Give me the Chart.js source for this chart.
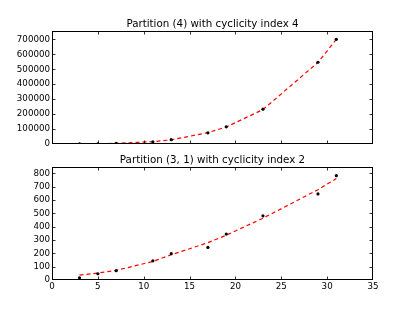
<!DOCTYPE html>
<html lang="en">
  <head>
    <meta charset="UTF-8" />
    <title>Partitions and cyclicity index</title>
    <script src="https://cdn.jsdelivr.net/npm/chart.js@4"></script>
    <style>
      body { margin: 0; background: #fff; }
      canvas { position: absolute; left: 0; }
      #top { top: 0; }
      #bottom { top: 150px; }
    </style>
  </head>
  <body>
    <canvas id="top" width="415" height="160"></canvas>
    <canvas id="bottom" width="415" height="162"></canvas>

    <script>
      // values
      const primes = [3, 5, 7, 11, 13, 17, 19, 23, 29, 31];
      const countsP4 = [500, 1500, 4000, 15000, 28700, 75000, 115000, 233000, 547000, 700000];
      const fitP4 = [0, 1200, 4500, 15500, 27500, 76000, 114000, 230000, 546000, 700000];
      const countsP31 = [17, 47, 70, 144, 197, 244, 344, 481, 645, 782];
      const fitP31 = [37, 52, 72, 139, 189, 280, 336, 463, 677, 760];
      const xTicks = [0, 5, 10, 15, 20, 25, 30, 35];
      const yTicksP4 = [0, 100000, 200000, 300000, 400000, 500000, 600000, 700000];
      const yTicksP31 = [0, 100, 200, 300, 400, 500, 600, 700, 800];

      const tickFont = { family: 'DejaVu Sans', size: 8.7 };

      // matplotlib style frame with inward ticks
      const frame = {
        id: 'frame',
        afterDraw(chart) {
          const { ctx, chartArea: a, scales } = chart;
          ctx.save();
          ctx.strokeStyle = '#000';
          ctx.lineWidth = 1;
          ctx.strokeRect(a.left + 0.5, a.top + 0.5, a.right - a.left - 1, a.bottom - a.top - 1);
          ctx.lineWidth = 0.8;
          ctx.beginPath();
          scales.x.ticks.forEach(t => {
            const x = Math.round(scales.x.getPixelForValue(t.value)) + 0.5;
            if (x < a.left + 2 || x > a.right - 2) return;
            ctx.moveTo(x, a.bottom); ctx.lineTo(x, a.bottom - 3.5);
            ctx.moveTo(x, a.top); ctx.lineTo(x, a.top + 3.5);
          });
          scales.y.ticks.forEach(t => {
            const y = Math.round(scales.y.getPixelForValue(t.value)) + 0.5;
            if (y > a.bottom - 2 || y < a.top + 2) return;
            ctx.moveTo(a.left, y); ctx.lineTo(a.left + 3.5, y);
            ctx.moveTo(a.right, y); ctx.lineTo(a.right - 3.5, y);
          });
          ctx.stroke();
          ctx.restore();
        }
      };

      function makeChart(id, title, pts, fit, yTicks, yMax, opts) {
        return new Chart(document.getElementById(id), {
          type: 'scatter',
          data: {
            datasets: [
              {
                data: primes.map((p, i) => ({ x: p, y: pts[i] })),
                backgroundColor: '#000',
                borderColor: '#000',
                pointRadius: 1.6,
                pointBorderWidth: 0
              },
              {
                data: primes.map((p, i) => ({ x: p, y: fit[i] })),
                showLine: true,
                pointRadius: 0,
                borderColor: '#ff0000',
                borderWidth: 1.2,
                borderDash: [4, 3]
              }
            ]
          },
          options: {
            responsive: false,
            animation: false,
            devicePixelRatio: 1,
            layout: { padding: { left: 0, right: 42, top: 0, bottom: 0 } },
            plugins: {
              legend: { display: false },
              tooltip: { enabled: false },
              title: {
                display: true,
                fullSize: false,
                text: title,
                color: '#000',
                font: { family: 'DejaVu Sans', size: 10.3, weight: 'normal', lineHeight: '13px' },
                padding: opts.titlePad
              }
            },
            scales: {
              x: {
                type: 'linear',
                min: 0,
                max: 35,
                grid: { display: false, drawTicks: false },
                border: { display: false },
                afterBuildTicks: s => { s.ticks = xTicks.map(v => ({ value: v })); },
                afterFit: s => { s.height = opts.xHeight; },
                ticks: { display: opts.xLabels, color: '#000', font: tickFont, padding: 2, maxRotation: 0,
                  callback: v => String(v) }
              },
              y: {
                min: 0,
                max: yMax,
                grid: { display: false, drawTicks: false },
                border: { display: false },
                afterBuildTicks: s => { s.ticks = yTicks.map(v => ({ value: v })); },
                afterFit: s => { s.width = 52; },
                ticks: { color: '#000', font: tickFont, padding: 2, callback: v => String(v) }
              }
            }
          },
          plugins: [frame]
        });
      }

      makeChart('top', 'Partition (4) with cyclicity index 4', countsP4, fitP4, yTicksP4, 756000,
        { titlePad: { top: 18, bottom: 0 }, xHeight: 16, xLabels: false });
      makeChart('bottom', 'Partition (3, 1) with cyclicity index 2', countsP31, fitP31, yTicksP31, 847,
        { titlePad: { top: 4, bottom: 0 }, xHeight: 32, xLabels: true });
    </script>
  </body>
</html>
